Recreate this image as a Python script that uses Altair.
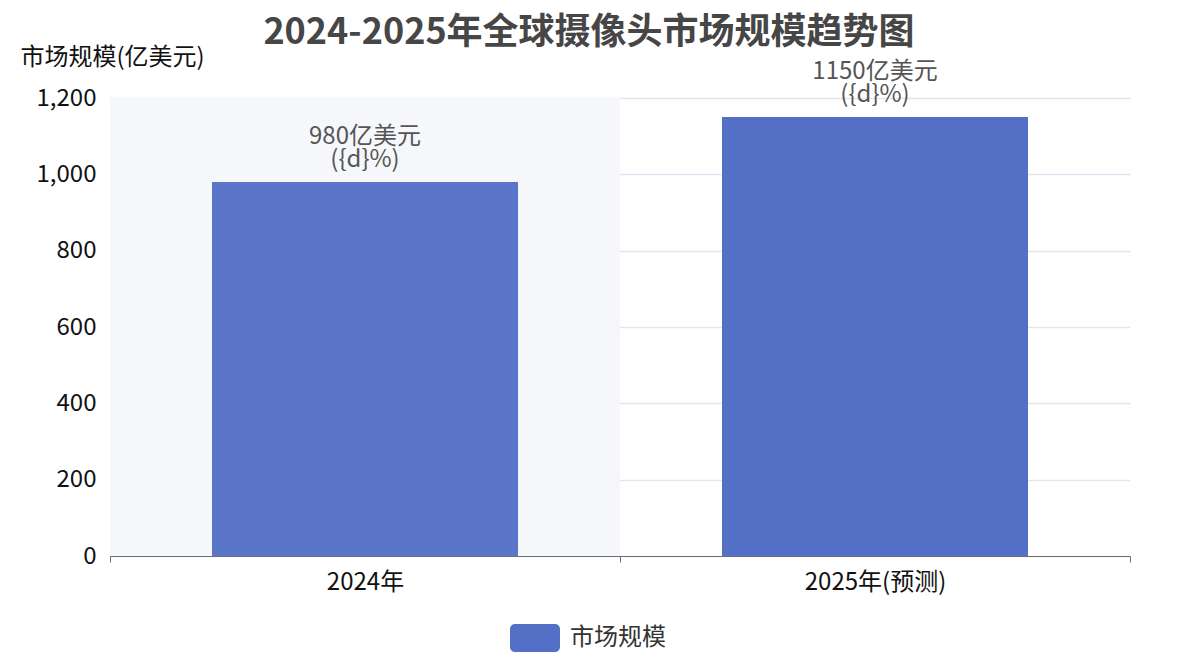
import altair as alt
import pandas as pd

categories = ["2024年", "2025年(预测)"]
values = [980, 1150]
labels = ["980亿美元\n({d}%)", "1150亿美元\n({d}%)"]
bar_colors = ["#5B76C8", "#5470C6"]
series_name = "市场规模"
y_ticks = [0, 200, 400, 600, 800, 1000, 1200]

df = pd.DataFrame({
    "cat": categories,
    "value": values,
    "label": labels,
    "barcolor": bar_colors,
    "series": [series_name] * len(categories),
})
shade_df = pd.DataFrame({"cat": [categories[0]], "top": [1200], "bottom": [0]})

FONT = "Noto Sans CJK SC"

x_enc = alt.X(
    "cat:N",
    sort=categories,
    scale=alt.Scale(paddingInner=0, paddingOuter=0),
    axis=alt.Axis(
        title=None, labelAngle=0, tickBand="extent", grid=False,
        domainColor="#6E7079", tickColor="#6E7079", tickSize=6,
        labelFontSize=24, labelColor="#111111", labelPadding=8,
        labelFont=FONT,
    ),
)

y_scale = alt.Scale(domain=[0, 1200], nice=False)

shade = alt.Chart(shade_df).mark_bar(color="#F6F7FB").encode(
    x=x_enc,
    y=alt.Y("top:Q", scale=y_scale),
    y2="bottom:Q",
)

y_axis = alt.Axis(
    values=y_ticks, format=",d", title="市场规模(亿美元)",
    titleAngle=0, titleAlign="left", titleBaseline="middle",
    titleX=-90, titleY=-41, titleFontSize=24, titleFontWeight="normal",
    titleColor="#111111", titleFont=FONT,
    labelFontSize=24, labelColor="#111111", labelPadding=14,
    labelFont=FONT, ticks=False, domain=False,
    gridColor="#E0E6F1", gridWidth=1.5,
)

bars = alt.Chart(df).mark_bar(width=alt.RelativeBandSize(0.6)).encode(
    x=x_enc,
    y=alt.Y("value:Q", scale=y_scale, axis=y_axis),
    fill=alt.Fill("barcolor:N", scale=None),
)

legend_layer = alt.Chart(df).mark_bar(opacity=0, width=alt.RelativeBandSize(0.6)).encode(
    x=x_enc,
    y=alt.Y("value:Q", scale=y_scale),
    color=alt.Color(
        "series:N",
        scale=alt.Scale(domain=[series_name], range=["#5470C6"]),
        legend=alt.Legend(
            title=None, orient="none", legendX=400, legendY=515,
            symbolType="M -0.8 -0.56 H 0.8 A 0.2 0.2 0 0 1 1 -0.36 V 0.36 A 0.2 0.2 0 0 1 0.8 0.56 H -0.8 A 0.2 0.2 0 0 1 -1 0.36 V -0.36 A 0.2 0.2 0 0 1 -0.8 -0.56 Z",
            symbolSize=2500, symbolStrokeWidth=0, symbolOpacity=1,
            symbolFillColor="#5470C6",
            labelFontSize=24, labelColor="#333333", labelFont=FONT,
            labelOffset=10,
        ),
    ),
)

text = alt.Chart(df).mark_text(
    baseline="bottom", dy=-33, fontSize=24, color="#555555",
    lineBreak="\n", lineHeight=23, font=FONT,
).encode(
    x=x_enc,
    y=alt.Y("value:Q", scale=y_scale),
    text="label:N",
)

chart = alt.layer(shade, bars, legend_layer, text).properties(
    width=1020,
    height=458,
    title=alt.TitleParams(
        "2024-2025年全球摄像头市场规模趋势图",
        fontSize=36, fontWeight="bold", color="#464646", font=FONT,
        anchor="middle", dx=-31, dy=13, offset=6,
    ),
    autosize=alt.AutoSizeParams(type="none"),
    padding={"left": 102, "top": 90, "right": 40, "bottom": 104},
).configure(background="white").configure_view(stroke=None)

chart.save("out.html", embed_options={"renderer": "svg", "actions": False})
